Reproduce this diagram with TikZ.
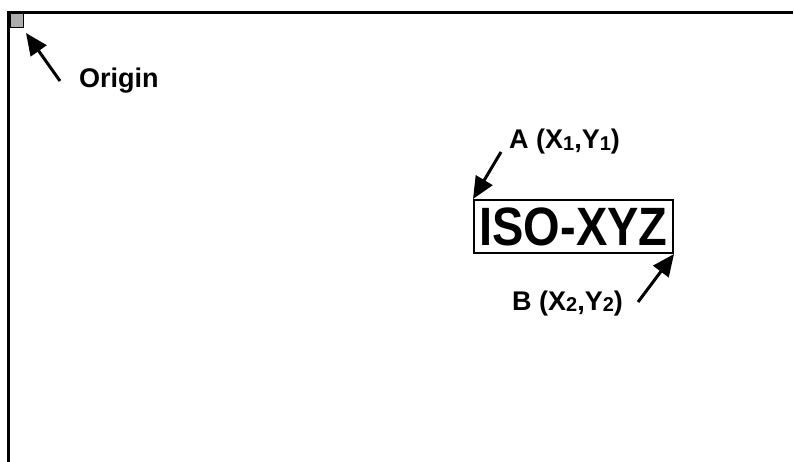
\documentclass[tikz,border=0pt]{standalone}
\usepackage{fontspec}
\setmainfont{Liberation Sans}
\usetikzlibrary{arrows.meta}
\tikzset{
  lbl/.style={anchor=base west, inner sep=0pt, font=\fontsize{27}{27}\selectfont\bfseries},
  ptr/.style={line width=3pt, -{Triangle[length=22pt,width=19pt]}},
  frame/.style={line width=3pt},
}
\newcommand{\sbx}[1]{\raisebox{-1.5pt}{\fontsize{20}{20}\selectfont #1}}
\begin{document}
\begin{tikzpicture}[x=1pt,y=-1pt]
\useasboundingbox (0,0) rectangle (794,462);
% frame
\coordinate (tr) at (793,12.5);
\coordinate (tl) at (8.5,12.5);
\coordinate (bl) at (8.5,462);
\draw[frame] (tr) -- (tl) -- (bl);
% origin square
\node[draw=black, line width=1pt, fill=gray!65, minimum width=13pt, minimum height=14pt, inner sep=0pt, anchor=north west] (org) at (9.5,13.5) {};
% origin arrow and label
\coordinate (otail) at (60,81);
\draw[ptr] (otail) -- (26,33);
\node[lbl] (olab) at (79,88) {Origin};
% box with text
\node[draw=black, line width=2pt, minimum width=199pt, minimum height=53pt, inner sep=0pt, anchor=north west] (iso) at (473,199) {\fontsize{54}{54}\selectfont\bfseries\scalebox{0.87}[1]{ISO-XYZ}};
% labels
\node[lbl] (alab) at (509,149) {A (X\sbx{1},Y\sbx{1})};
\node[lbl] (blab) at (512,310) {B (X\sbx{2},Y\sbx{2})};
% arrows
\coordinate (atail) at (501,152);
\coordinate (btail) at (638,302);
\draw[ptr] (atail) -- (iso.north west);
\draw[ptr] (btail) -- (iso.south east);
\end{tikzpicture}
\end{document}
